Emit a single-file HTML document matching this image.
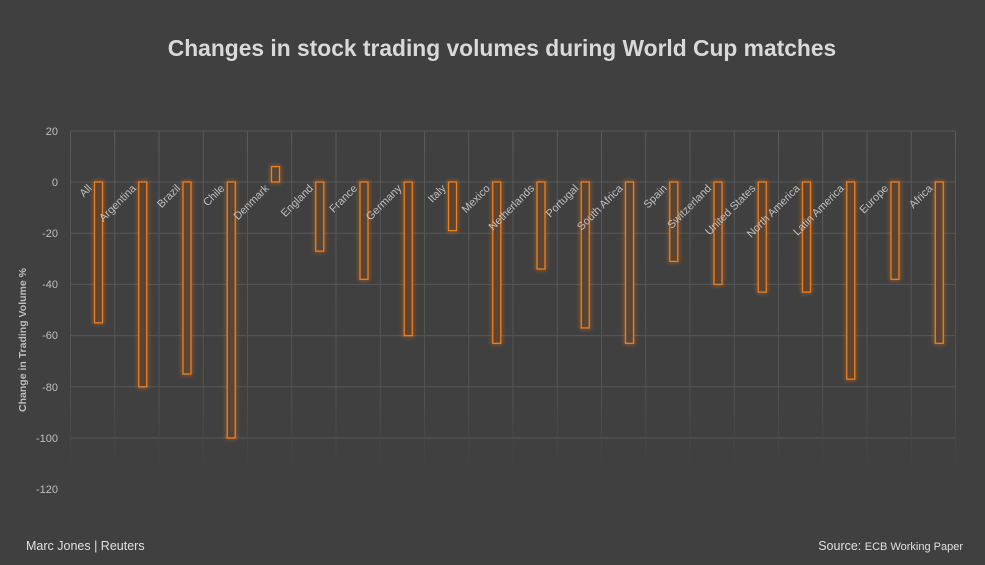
<!DOCTYPE html>
<html><head><meta charset="utf-8"><style>
body{margin:0;background:#404040;}
svg{display:block;font-family:"Liberation Sans",sans-serif;}
</style></head><body>
<svg width="985" height="565" viewBox="0 0 985 565" xmlns="http://www.w3.org/2000/svg">
<defs>
<linearGradient id="fade" gradientUnits="userSpaceOnUse" x1="0" y1="131" x2="0" y2="471">
<stop offset="0" stop-color="#5a5a5a"/><stop offset="0.75" stop-color="#535353"/><stop offset="1" stop-color="#404040"/>
</linearGradient>
<filter id="glow" x="-1" y="-0.2" width="3" height="1.4"><feGaussianBlur stdDeviation="2"/></filter>
</defs>
<rect width="985" height="565" fill="#404040"/>
<text x="502" y="56" text-anchor="middle" font-size="22.8" font-weight="bold" fill="#d9d9d9">Changes in stock trading volumes during World Cup matches</text>
<g stroke="#575757" stroke-width="1">
<line x1="70.5" x2="955.5" y1="131" y2="131"/>
<line x1="70.5" x2="955.5" y1="182" y2="182"/>
<line x1="70.5" x2="955.5" y1="233.2" y2="233.2"/>
<line x1="70.5" x2="955.5" y1="284.4" y2="284.4"/>
<line x1="70.5" x2="955.5" y1="335.6" y2="335.6"/>
<line x1="70.5" x2="955.5" y1="386.8" y2="386.8"/>
<line x1="70.5" x2="955.5" y1="438" y2="438"/>
</g>
<path stroke="url(#fade)" stroke-width="1" fill="none" d="M70.5 131V471M114.75 131V471M159 131V471M203.25 131V471M247.5 131V471M291.75 131V471M336 131V471M380.25 131V471M424.5 131V471M468.75 131V471M513 131V471M557.25 131V471M601.5 131V471M645.75 131V471M690 131V471M734.25 131V471M778.5 131V471M822.75 131V471M867 131V471M911.25 131V471M955.5 131V471"/>
<g font-size="11" fill="#bfbfbf" text-anchor="end">
<text x="58" y="135">20</text><text x="58" y="186">0</text><text x="58" y="237">-20</text><text x="58" y="288">-40</text><text x="58" y="339">-60</text><text x="58" y="391">-80</text><text x="58" y="442">-100</text><text x="58" y="493">-120</text>
</g>
<g fill="none" stroke="#f07e1e" stroke-width="3" opacity="0.45" filter="url(#glow)">
<rect x="94.5" y="182" width="8" height="140.8"/>
<rect x="138.75" y="182" width="8" height="204.8"/>
<rect x="183" y="182" width="8" height="192"/>
<rect x="227.25" y="182" width="8" height="256"/>
<rect x="271.5" y="166.6" width="8" height="15.4"/>
<rect x="315.75" y="182" width="8" height="69.1"/>
<rect x="360" y="182" width="8" height="97.3"/>
<rect x="404.25" y="182" width="8" height="153.6"/>
<rect x="448.5" y="182" width="8" height="48.6"/>
<rect x="492.75" y="182" width="8" height="161.3"/>
<rect x="537" y="182" width="8" height="87"/>
<rect x="581.25" y="182" width="8" height="145.9"/>
<rect x="625.5" y="182" width="8" height="161.3"/>
<rect x="669.75" y="182" width="8" height="79.4"/>
<rect x="714" y="182" width="8" height="102.4"/>
<rect x="758.25" y="182" width="8" height="110.1"/>
<rect x="802.5" y="182" width="8" height="110.1"/>
<rect x="846.75" y="182" width="8" height="197.1"/>
<rect x="891" y="182" width="8" height="97.3"/>
<rect x="935.25" y="182" width="8" height="161.3"/>
</g>
<g fill="#5a4535" stroke="#f07e1e" stroke-width="1.3">
<rect x="94.5" y="182" width="8" height="140.8"/>
<rect x="138.75" y="182" width="8" height="204.8"/>
<rect x="183" y="182" width="8" height="192"/>
<rect x="227.25" y="182" width="8" height="256"/>
<rect x="271.5" y="166.6" width="8" height="15.4"/>
<rect x="315.75" y="182" width="8" height="69.1"/>
<rect x="360" y="182" width="8" height="97.3"/>
<rect x="404.25" y="182" width="8" height="153.6"/>
<rect x="448.5" y="182" width="8" height="48.6"/>
<rect x="492.75" y="182" width="8" height="161.3"/>
<rect x="537" y="182" width="8" height="87"/>
<rect x="581.25" y="182" width="8" height="145.9"/>
<rect x="625.5" y="182" width="8" height="161.3"/>
<rect x="669.75" y="182" width="8" height="79.4"/>
<rect x="714" y="182" width="8" height="102.4"/>
<rect x="758.25" y="182" width="8" height="110.1"/>
<rect x="802.5" y="182" width="8" height="110.1"/>
<rect x="846.75" y="182" width="8" height="197.1"/>
<rect x="891" y="182" width="8" height="97.3"/>
<rect x="935.25" y="182" width="8" height="161.3"/>
</g>
<g font-size="11" fill="#bfbfbf" text-anchor="end">
<text transform="translate(92.5,189) rotate(-45)">All</text>
<text transform="translate(136.75,189) rotate(-45)">Argentina</text>
<text transform="translate(181,189) rotate(-45)">Brazil</text>
<text transform="translate(225.25,189) rotate(-45)">Chile</text>
<text transform="translate(269.5,189) rotate(-45)">Denmark</text>
<text transform="translate(313.75,189) rotate(-45)">England</text>
<text transform="translate(358,189) rotate(-45)">France</text>
<text transform="translate(402.25,189) rotate(-45)">Germany</text>
<text transform="translate(446.5,189) rotate(-45)">Italy</text>
<text transform="translate(490.75,189) rotate(-45)">Mexico</text>
<text transform="translate(535,189) rotate(-45)">Netherlands</text>
<text transform="translate(579.25,189) rotate(-45)">Portugal</text>
<text transform="translate(623.5,189) rotate(-45)">South Africa</text>
<text transform="translate(667.75,189) rotate(-45)">Spain</text>
<text transform="translate(712,189) rotate(-45)">Switzerland</text>
<text transform="translate(756.25,189) rotate(-45)">United States</text>
<text transform="translate(800.5,189) rotate(-45)">North America</text>
<text transform="translate(844.75,189) rotate(-45)">Latin America</text>
<text transform="translate(889,189) rotate(-45)">Europe</text>
<text transform="translate(933.25,189) rotate(-45)">Africa</text>
</g>
<text transform="translate(26,340) rotate(-90)" text-anchor="middle" font-size="10.5" font-weight="bold" fill="#bfbfbf">Change in Trading Volume %</text>
<text x="26" y="550" font-size="12.5" fill="#e0e0e0">Marc Jones | Reuters</text>
<text x="963" y="550" text-anchor="end" font-size="12.5" fill="#e0e0e0">Source: <tspan font-size="11">ECB Working Paper</tspan></text>
</svg>
</body></html>
